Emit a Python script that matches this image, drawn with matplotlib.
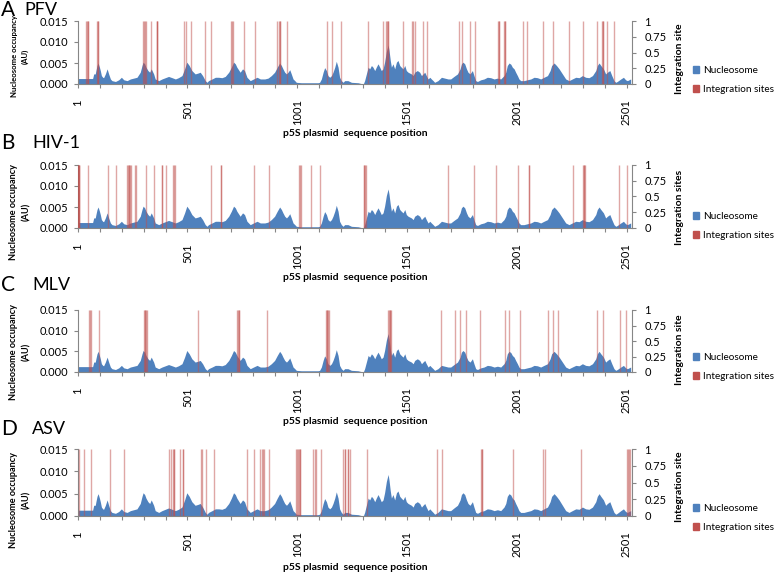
import matplotlib.pyplot as plt
from matplotlib.patches import Patch
from matplotlib.ticker import FixedLocator, FormatStrFormatter

# nucleosome occupancy profile (same plasmid in every panel)
nuc_pos = [1, 69, 74, 81, 84, 89, 94, 100, 104, 109,
           115, 119, 127, 135, 142, 150, 157, 173, 188, 200,
           211, 226, 241, 256, 271, 286, 294, 299, 306, 312,
           321, 329, 336, 347, 354, 370, 385, 400, 415, 431,
           446, 460, 476, 488, 498, 509, 521, 536, 549, 559,
           570, 582, 590, 597, 613, 628, 643, 658, 673, 689,
           701, 711, 719, 726, 741, 752, 761, 772, 787, 802,
           818, 833, 853, 868, 883, 898, 910, 921, 929, 936,
           944, 952, 959, 967, 974, 982, 990, 997, 1020, 1050,
           1081, 1096, 1103, 1111, 1119, 1126, 1134, 1141, 1149, 1157,
           1164, 1172, 1179, 1187, 1194, 1202, 1210, 1217, 1232, 1248,
           1278, 1293, 1302, 1308, 1316, 1324, 1331, 1339, 1346, 1354,
           1361, 1369, 1377, 1384, 1392, 1399, 1407, 1415, 1419, 1425,
           1430, 1437, 1445, 1453, 1460, 1468, 1475, 1483, 1491, 1498,
           1506, 1521, 1529, 1536, 1548, 1559, 1567, 1574, 1582, 1589,
           1597, 1605, 1612, 1620, 1627, 1642, 1658, 1673, 1688, 1700,
           1715, 1731, 1743, 1749, 1756, 1764, 1772, 1779, 1788, 1799,
           1806, 1814, 1822, 1837, 1852, 1867, 1882, 1898, 1913, 1928,
           1943, 1951, 1958, 1966, 1974, 1981, 1989, 1996, 2004, 2011,
           2019, 2034, 2049, 2065, 2080, 2095, 2110, 2125, 2141, 2153,
           2160, 2171, 2182, 2194, 2209, 2224, 2239, 2254, 2270, 2285,
           2300, 2315, 2330, 2346, 2361, 2368, 2376, 2384, 2396, 2406,
           2414, 2425, 2434, 2444, 2452, 2459, 2475, 2487, 2497, 2505,
           2520]
nuc_val = [0.0013, 0.0013, 0.0024, 0.0024, 0.0032, 0.0044, 0.0050, 0.0040, 0.0032, 0.0020,
           0.0016, 0.0015, 0.0024, 0.0036, 0.0024, 0.0012, 0.0008, 0.0006, 0.0010, 0.0016,
           0.0010, 0.0008, 0.0012, 0.0014, 0.0016, 0.0028, 0.0044, 0.0052, 0.0048, 0.0040,
           0.0032, 0.0028, 0.0036, 0.0024, 0.0012, 0.0008, 0.0012, 0.0015, 0.0018, 0.0015,
           0.0012, 0.0015, 0.0020, 0.0036, 0.0052, 0.0044, 0.0032, 0.0024, 0.0026, 0.0028,
           0.0020, 0.0008, 0.0004, 0.0008, 0.0012, 0.0016, 0.0016, 0.0015, 0.0018, 0.0028,
           0.0040, 0.0052, 0.0048, 0.0040, 0.0028, 0.0036, 0.0032, 0.0016, 0.0008, 0.0012,
           0.0016, 0.0012, 0.0012, 0.0014, 0.0020, 0.0028, 0.0040, 0.0050, 0.0044, 0.0036,
           0.0028, 0.0024, 0.0028, 0.0034, 0.0024, 0.0012, 0.0008, 0.0004, 0.0003, 0.0003,
           0.0003, 0.0003, 0.0004, 0.0012, 0.0028, 0.0039, 0.0032, 0.0020, 0.0016, 0.0020,
           0.0028, 0.0040, 0.0054, 0.0040, 0.0016, 0.0008, 0.0004, 0.0008, 0.0008, 0.0004,
           0.0003, 0.0001, 0.0000, 0.0008, 0.0024, 0.0040, 0.0036, 0.0044, 0.0040, 0.0032,
           0.0040, 0.0048, 0.0040, 0.0032, 0.0036, 0.0052, 0.0077, 0.0093, 0.0081, 0.0056,
           0.0040, 0.0048, 0.0036, 0.0052, 0.0056, 0.0044, 0.0040, 0.0036, 0.0044, 0.0032,
           0.0028, 0.0024, 0.0020, 0.0028, 0.0032, 0.0028, 0.0020, 0.0024, 0.0028, 0.0020,
           0.0012, 0.0016, 0.0012, 0.0008, 0.0004, 0.0008, 0.0016, 0.0014, 0.0012, 0.0012,
           0.0018, 0.0024, 0.0036, 0.0048, 0.0052, 0.0048, 0.0036, 0.0028, 0.0024, 0.0032,
           0.0020, 0.0008, 0.0006, 0.0010, 0.0012, 0.0016, 0.0015, 0.0012, 0.0014, 0.0012,
           0.0020, 0.0028, 0.0044, 0.0050, 0.0047, 0.0040, 0.0036, 0.0028, 0.0020, 0.0012,
           0.0008, 0.0008, 0.0010, 0.0012, 0.0016, 0.0015, 0.0012, 0.0016, 0.0020, 0.0032,
           0.0044, 0.0050, 0.0044, 0.0036, 0.0024, 0.0012, 0.0008, 0.0012, 0.0016, 0.0015,
           0.0020, 0.0016, 0.0015, 0.0020, 0.0032, 0.0044, 0.0050, 0.0044, 0.0036, 0.0024,
           0.0028, 0.0032, 0.0020, 0.0008, 0.0004, 0.0006, 0.0012, 0.0016, 0.0010, 0.0008,
           0.0012]

# integration site positions per virus
pfv_sites = [38, 45, 47, 50, 87, 94, 95, 300, 305, 306, 311, 335, 361, 362, 364,
             487, 494, 519, 580, 607, 699, 705, 710, 757, 810, 910, 917, 921, 922,
             955, 1136, 1160, 1201, 1324, 1393, 1404, 1409, 1415, 1416, 1481, 1525,
             1530, 1536, 1573, 1592, 1740, 1753, 1787, 1811, 1917, 1918, 1922, 1945,
             1946, 1949, 2028, 2046, 2119, 2165, 2241, 2302, 2367, 2391, 2392, 2396,
             2412, 2444]
hiv_sites = [1, 3, 5, 7, 9, 49, 141, 174, 225, 229, 233, 236, 240, 243, 264, 267,
             311, 348, 384, 387, 405, 436, 440, 445, 607, 652, 655, 805, 871, 1010,
             1014, 1017, 1066, 1104, 1303, 1307, 1311, 1315, 1687, 1805, 1905, 2006,
             2056, 2057, 2256, 2304, 2307, 2309, 2314, 2466, 2504]
mlv_sites = [52, 56, 60, 99, 303, 306, 309, 312, 315, 550, 725, 731, 734, 737, 862,
             1132, 1135, 1138, 1141, 1144, 1416, 1419, 1422, 1425, 1427, 1655, 1719,
             1742, 1769, 1833, 1947, 1965, 2015, 2143, 2166, 2188, 2366, 2393, 2470,
             2498]
asv_sites = [7, 30, 60, 148, 211, 418, 425, 434, 440, 441, 469, 481, 482, 563, 569,
             587, 623, 774, 806, 832, 841, 847, 851, 871, 996, 1001, 1005, 1011,
             1012, 1014, 1075, 1081, 1085, 1110, 1211, 1219, 1220, 1231, 1232, 1242,
             1318, 1637, 1662, 1840, 1841, 1842, 1985, 2119, 2130, 2294, 2503, 2509,
             2513, 2517]

letters = ['A', 'B', 'C', 'D']
viruses = ['PFV', 'HIV-1', 'MLV', 'ASV']
site_lists = [pfv_sites, hiv_sites, mlv_sites, asv_sites]
right_labels = ['Integration site', 'Integration sites', 'Integration site', 'Integration site']
x_labels = [1, 501, 1001, 1501, 2001, 2501]

W, H = 778, 578
plt.rcParams['font.family'] = ['Lato', 'DejaVu Sans']
fig = plt.figure(figsize=(W / 100, H / 100), dpi=100)

blue = '#4F81BD'
red = '#C0504D'
grey = '#868686'

# panel layout in pixels: top, bottom, title y, xlabel y, ylabel y, right label y, legend y
rows = [(21, 84, 10, 133, 56, 59, 80),
        (165, 228, 143, 277, 212, 207, 226),
        (310, 372, 285, 421, 352, 350, 367),
        (449, 516, 429, 568, 500, 487, 518)]
left_px, right_px = 77.7, 632

for i in range(4):
    top, bot, ty, xly, yly, rly, lgy = rows[i]
    ax = fig.add_axes([left_px / W, 1 - bot / H, (right_px - left_px) / W, (bot - top) / H])
    ax.fill_between(nuc_pos, nuc_val, color=blue, lw=0)
    ax.set_xlim(1, 2526)
    ax.set_ylim(0, 0.015)
    ax.set_yticks([0, 0.005, 0.010, 0.015])
    ax.yaxis.set_major_formatter(FormatStrFormatter('%.3f'))
    ax.set_xticks(x_labels)
    ax.set_xticklabels([str(v) for v in x_labels], rotation=90, va='top')
    ax.xaxis.set_minor_locator(FixedLocator(range(101, 2527, 100)))
    ax.tick_params(axis='both', which='both', color=grey, length=3, width=0.8, labelsize=8)
    ax.tick_params(axis='x', pad=8)
    for s in ['top', 'right']:
        ax.spines[s].set_visible(False)
    for s in ['left', 'bottom']:
        ax.spines[s].set_color(grey)

    tw = ax.twinx()
    tw.vlines(site_lists[i], 0, 1, colors=red, alpha=0.5, lw=1.0)
    tw.set_ylim(0, 1)
    tw.set_yticks([0, 0.25, 0.5, 0.75, 1])
    tw.set_yticklabels(['0', '0.25', '0.5', '0.75', '1'])
    tw.tick_params(axis='y', color=grey, length=3, width=0.8, labelsize=8, pad=6)
    for s in ['top', 'left', 'bottom']:
        tw.spines[s].set_visible(False)
    tw.spines['right'].set_color(grey)

    fig.text(1 / W, 1 - ty / H, letters[i], fontsize=15, va='center', ha='left')
    fig.text((24 if i == 0 else 32) / W, 1 - ty / H, viruses[i], fontsize=13, va='center', ha='left')
    fig.text((left_px + right_px) / 2 / W, 1 - xly / H, 'p5S plasmid  sequence position',
             fontsize=7.5, fontweight='bold', ha='center', va='center')
    fig.text(20 / W, 1 - yly / H, 'Nucleosome occupancy\n(AU)', rotation=90,
             fontsize=5.6 if i == 0 else 6.6, fontweight='bold', ha='center', va='center',
             multialignment='center', linespacing=1.6)
    fig.text(680 / W, 1 - rly / H, right_labels[i], rotation=90, fontsize=7.5,
             fontweight='bold', ha='center', va='center')
    fig.legend(handles=[Patch(color=blue, label='Nucleosome'),
                        Patch(color=red, label='Integration sites')],
               loc='center left', bbox_to_anchor=(693 / W, 1 - lgy / H), frameon=False,
               fontsize=7.2, handlelength=0.6, handleheight=0.6, handletextpad=0.4,
               labelspacing=1.0, borderaxespad=0, borderpad=0)

fig.savefig('out.png', dpi=100)
